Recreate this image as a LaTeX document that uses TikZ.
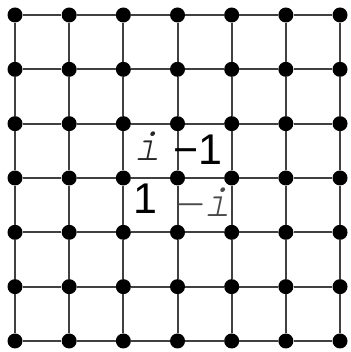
\documentclass[tikz,border=0pt]{standalone}
\usepackage{fontspec}
\setmainfont{Liberation Sans}
\newfontfamily\monoit{TeX Gyre Cursor}[UprightFont=*-Italic]
\definecolor{gridline}{HTML}{404040}
\definecolor{itext}{HTML}{262626}
\definecolor{mitext}{HTML}{4a4a4a}
\begin{document}
\begin{tikzpicture}[x=1pt,y=1pt,
  dot/.style={circle,fill=black,minimum size=15pt,inner sep=0pt},
  gline/.style={draw=gridline,line width=2pt},
  lab/.style={anchor=base,inner sep=0pt,font=\fontsize{43}{45}\selectfont},
  ilab/.style={anchor=base,inner sep=0pt,font=\fontsize{47}{49}\selectfont\monoit}]
\useasboundingbox (0,0) rectangle (350,352);
\foreach \i in {0,...,6}{
  \foreach \j in {0,...,6}{
    \node[dot] (d-\i-\j) at ({15+\i*54.17},{337-\j*54.33}) {};
  }
}
\foreach \i in {0,...,6}{
  \foreach \j [evaluate=\j as \k using int(\j+1)] in {0,...,5}{
    \draw[gline] (d-\i-\j) -- (d-\i-\k);
    \draw[gline] (d-\j-\i) -- (d-\k-\i);
  }
}
\node[ilab,text=itext] (li) at (148,191) {i};
\node[lab] (lm1) at (198,187) {−1};
\node[lab] (l1) at (145,138) {1};
\node[ilab,text=mitext] (lmi) at (203,135) {−i};
\end{tikzpicture}
\end{document}
